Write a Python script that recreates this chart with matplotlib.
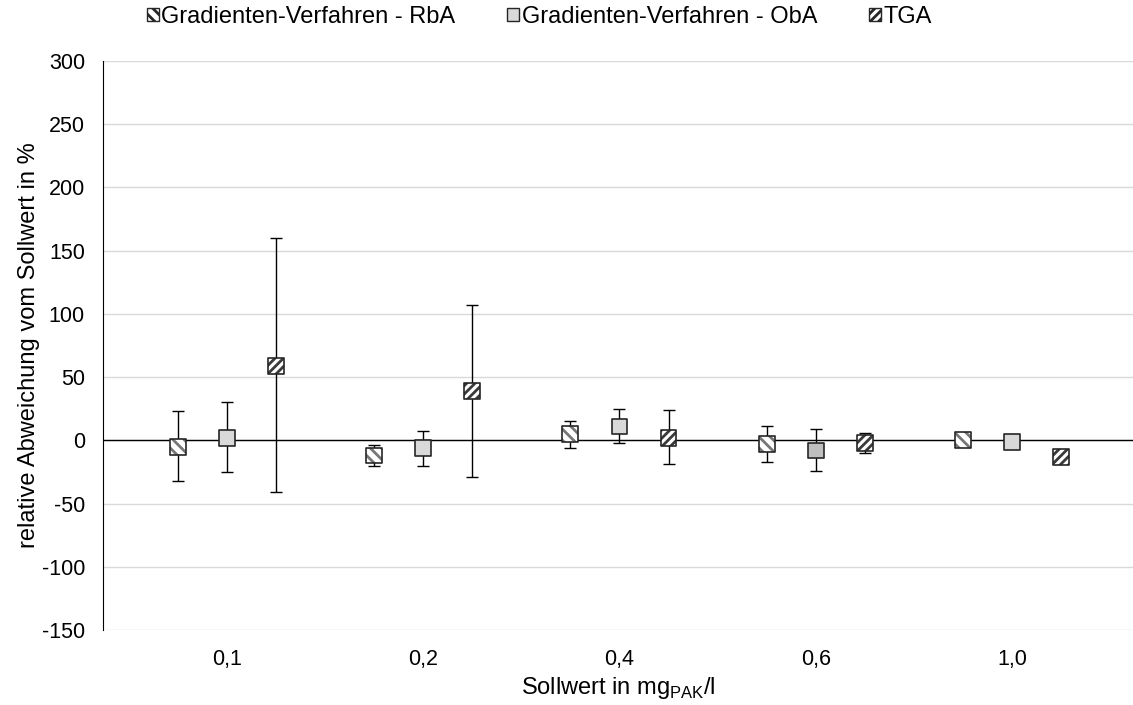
import matplotlib
matplotlib.use("Agg")
import matplotlib.pyplot as plt
from matplotlib.patches import Patch
import numpy as np

plt.rcParams['font.family'] = ['Liberation Sans', 'DejaVu Sans']
plt.rcParams['axes.unicode_minus'] = False
plt.rcParams['hatch.linewidth'] = 2.0

# Daten
categories = ['0,1', '0,2', '0,4', '0,6', '1,0']

rba_mean = [-5, -12, 5, -3, 0]
rba_top = [23, -4, 15, 11, 0]
rba_bot = [-32, -20, -6, -17, 0]

oba_mean = [2, -6, 11, -8, -1]
oba_top = [30, 7, 25, 9, -1]
oba_bot = [-25, -20, -2, -24, -1]
oba_colors = ['#d9d9d9', '#d9d9d9', '#d9d9d9', '#bfbfbf', '#d9d9d9']

tga_mean = [59, 39, 2, -2, -13]
tga_top = [160, 107, 24, 6, -13]
tga_bot = [-41, -29, -19, -10, -13]

labels = ['Gradienten-Verfahren - RbA', 'Gradienten-Verfahren - ObA', 'TGA']

fig = plt.figure(figsize=(11.33, 7.05), dpi=100)
ax = fig.add_axes([103 / 1133, 1 - 630 / 705, 1 - 103 / 1133, (630 - 61) / 705])

x = np.arange(len(categories))
offs = 0.25
msize = 130
fs_tick = 15.5
fs_title = 17


def draw(xpos, mean, top, bot, face, hatch, hatch_col):
    mean = np.array(mean)
    err = [mean - np.array(bot), np.array(top) - mean]
    ax.errorbar(xpos, mean, yerr=err, fmt='none', ecolor='black',
                elinewidth=1, capsize=4, capthick=1, zorder=3)
    ax.scatter(xpos, mean, s=msize, marker='s', facecolor=face,
               edgecolor=hatch_col, linewidths=0, hatch=hatch, zorder=4)
    ax.scatter(xpos, mean, s=msize, marker='s', facecolor='none',
               edgecolor='#262626', linewidths=1.2, zorder=5)


draw(x - offs, rba_mean, rba_top, rba_bot, 'white', '\\\\\\', '#777777')
draw(x, oba_mean, oba_top, oba_bot, oba_colors, None, '#262626')
draw(x + offs, tga_mean, tga_top, tga_bot, 'white', '////', '#3a3a3a')

ax.axhline(0, color='black', lw=1, zorder=2)
ax.set_ylim(-150, 300)
ax.set_yticks(np.arange(-150, 301, 50))
ax.set_xlim(-0.63, 4.615)
ax.set_xticks(x)
ax.set_xticklabels(categories)
ax.yaxis.grid(True, color='#d9d9d9', lw=1)
ax.set_axisbelow(True)
for s in ['top', 'right', 'bottom']:
    ax.spines[s].set_visible(False)
ax.spines['left'].set_color('black')
ax.tick_params(axis='both', length=0, labelsize=fs_tick, colors='black')
ax.tick_params(axis='x', pad=14)
ax.tick_params(axis='y', pad=13)

ax.set_ylabel('relative Abweichung vom Sollwert in %', fontsize=fs_title, labelpad=1)
ax.set_xlabel('Sollwert in mg$_\\mathregular{PAK}$/l', fontsize=fs_title, labelpad=3)

handles = [
    Patch(facecolor='white', edgecolor='#262626', hatch='\\\\\\', label=labels[0]),
    Patch(facecolor='#d9d9d9', edgecolor='#262626', label=labels[1]),
    Patch(facecolor='white', edgecolor='#262626', hatch='////', label=labels[2]),
]
fig.legend(handles=handles, loc='upper left', bbox_to_anchor=(126 / 1133, 1.022),
           ncol=3, frameon=False, fontsize=fs_title, handlelength=0.5, handleheight=0.5,
           handletextpad=0.1, columnspacing=2.2)

fig.savefig('out.png', dpi=100)
